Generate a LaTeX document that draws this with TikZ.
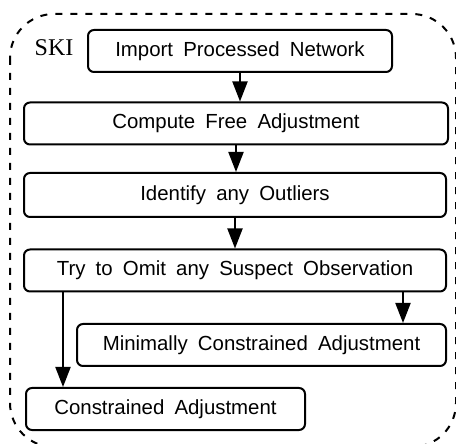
\documentclass[tikz,border=0pt]{standalone}
\usepackage{fontspec}
\setmainfont{Liberation Serif}
\newfontfamily\boxfont[WordSpace=1.8]{Liberation Sans}
\usepackage{tikz}
\usetikzlibrary{arrows.meta}

\begin{document}
\begin{tikzpicture}[x=0.5pt, y=-0.5pt, >={Triangle[length=10pt, width=7.5pt]},
    stage/.style={draw, line width=1pt, rounded corners=3pt, inner sep=0pt,
                  minimum height=21pt, font=\boxfont\fontsize{10.2}{12}\selectfont},
    flow/.style={->, line width=1pt}]
  \useasboundingbox (0,0) rectangle (456,444);
  % dashed boundary of the SKI module
  \draw[line width=1pt, dash pattern=on 3.5pt off 4pt, rounded corners=22pt]
        (10,14) rectangle (456,447);
  \node[font=\fontsize{12}{14}\selectfont, inner sep=0pt] (ski) at (54,48) {SKI};
  \node[stage, minimum width=152pt] (import)   at (240,51)    {Import Processed Network};
  \node[stage, minimum width=212pt] (free)     at (236,123.5) {Compute Free Adjustment};
  \node[stage, minimum width=211pt, minimum height=22pt] (outliers) at (235,195) {Identify any Outliers};
  \node[stage, minimum width=211pt] (omit)     at (235,270.5) {Try to Omit any Suspect Observation};
  \node[stage, minimum width=184.5pt] (minimal) at (261.5,345) {Minimally Constrained Adjustment};
  \node[stage, minimum width=139.5pt] (constr)  at (165.5,409) {Constrained Adjustment};
  \coordinate (tapL) at (63,0);
  \coordinate (tapR) at (403,0);
  \draw[flow] (import.south) -- (import.south |- free.north);
  \draw[flow] (free.south) -- (free.south |- outliers.north);
  \draw[flow] (outliers.south) -- (outliers.south |- omit.north);
  \draw[flow] (omit.south -| tapR) -- (minimal.north -| tapR);
  \draw[flow] (omit.south -| tapL) -- (constr.north -| tapL);
\end{tikzpicture}
\end{document}
